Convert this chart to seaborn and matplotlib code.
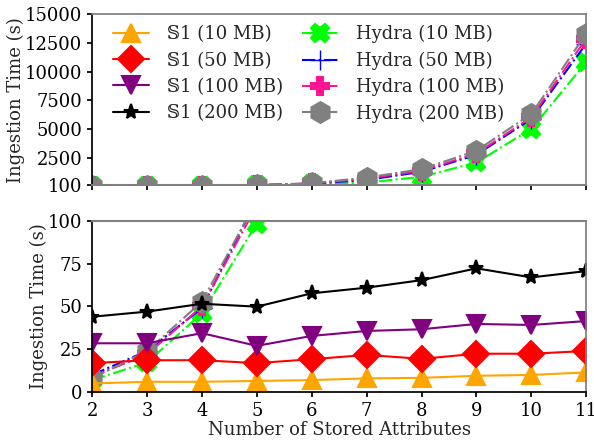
import matplotlib
matplotlib.use('Agg')
import matplotlib.pyplot as plt
import seaborn as sns

attrs = [2, 3, 4, 5, 6, 7, 8, 9, 10, 11]

s1_10 = [5, 6, 6, 6.5, 7, 8, 8.3, 9.5, 10, 11.5]
s1_50 = [16.9, 18.6, 18.6, 16.9, 19.2, 21.7, 19.4, 22.4, 22.4, 24]
s1_100 = [28.5, 28.5, 34.4, 27, 32.8, 35.7, 36.7, 39.8, 39.2, 41.5]
s1_200 = [44, 47, 51.6, 49.9, 57.7, 61, 65.4, 72.3, 67, 70.7]

hydra_10 = [7, 17.3, 46, 98.5, 180, 330, 830, 2080, 5000, 10830]
hydra_50 = [10, 24, 49, 113, 230, 560, 1265, 2750, 5875, 12440]
hydra_100 = [9, 22, 50, 109, 250, 680, 1350, 2865, 6015, 12875]
hydra_200 = [8, 24, 52.8, 112, 270, 765, 1500, 3100, 6310, 13310]

s1_labels = ["\U0001D54A1 (10 MB)", "\U0001D54A1 (50 MB)", "\U0001D54A1 (100 MB)", "\U0001D54A1 (200 MB)"]
hydra_labels = ["Hydra (10 MB)", "Hydra (50 MB)", "Hydra (100 MB)", "Hydra (200 MB)"]

s1_styles = [
    dict(color='orange', marker='^', ms=13, mew=1.5),
    dict(color='red', marker='D', ms=13, mew=1.5),
    dict(color='purple', marker='v', ms=13, mew=1.5),
    dict(color='black', marker='*', ms=11, mew=1.5),
]
hydra_styles = [
    dict(color='lime', marker='X', ms=13, mew=1.5),
    dict(color='blue', marker='+', ms=15, mew=1.0),
    dict(color='deeppink', marker='P', ms=13, mew=1.5),
    dict(color='gray', marker='h', ms=15, mew=1.5),
]

sns.set_theme(style="ticks")
plt.rcParams['font.family'] = ['DejaVu Serif', 'DejaVu Sans']
FS = 13

fig = plt.figure(figsize=(5.94, 4.41), dpi=100)
ax_top = fig.add_axes([0.155, 0.580, 0.832, 0.388])
ax_bot = fig.add_axes([0.155, 0.111, 0.832, 0.388])


def draw(ax, data, labels, styles, ls):
    for vals, lab, st in zip(data, labels, styles):
        sns.lineplot(x=attrs, y=vals, ax=ax, label=lab, color=st['color'],
                     marker=st['marker'], markersize=st['ms'], linestyle=ls,
                     linewidth=1.5, markeredgecolor=st['color'],
                     markeredgewidth=st['mew'], legend=False)


# top panel: only Hydra reaches that range
draw(ax_top, [hydra_10, hydra_50, hydra_100, hydra_200], hydra_labels, hydra_styles, '-.')
# bottom panel: Hydra underneath, S1 on top
draw(ax_bot, [hydra_10, hydra_50, hydra_100, hydra_200], hydra_labels, hydra_styles, '-.')
draw(ax_bot, [s1_10, s1_50, s1_100, s1_200], s1_labels, s1_styles, '-')

for ax in (ax_top, ax_bot):
    ax.set_xlim(2, 11)
    ax.set_xticks(attrs)
    ax.set_ylabel("Ingestion Time (s)", fontsize=FS, labelpad=0)
    ax.tick_params(labelsize=FS, direction='out', length=3.5, colors='black')
    for side in ('top', 'right'):
        ax.spines[side].set_color('gray')
    ax.spines['left'].set_color('black')

ax_top.set_ylim(100, 15000)
ax_top.set_yticks([100, 2500, 5000, 7500, 10000, 12500, 15000])
ax_top.set_xticklabels([])
ax_top.spines['bottom'].set_color('gray')
ax_top.spines['bottom'].set_linewidth(1.5)
ax_bot.spines['top'].set_linewidth(1.5)
ax_bot.spines['bottom'].set_color('black')

ax_bot.set_ylim(0, 100)
ax_bot.set_yticks([0, 25, 50, 75, 100])
ax_bot.set_xlabel("Number of Stored Attributes", fontsize=FS, labelpad=1)

h, l = ax_bot.get_legend_handles_labels()
order = [4, 5, 6, 7, 0, 1, 2, 3]
ax_top.legend([h[i] for i in order], [l[i] for i in order], ncol=2, frameon=False,
              fontsize=FS, loc='upper left', bbox_to_anchor=(0.01, 1.03),
              handlelength=2.0, handletextpad=1.0, columnspacing=1.0,
              labelspacing=0.45)

fig.savefig("out.png", dpi=100)
